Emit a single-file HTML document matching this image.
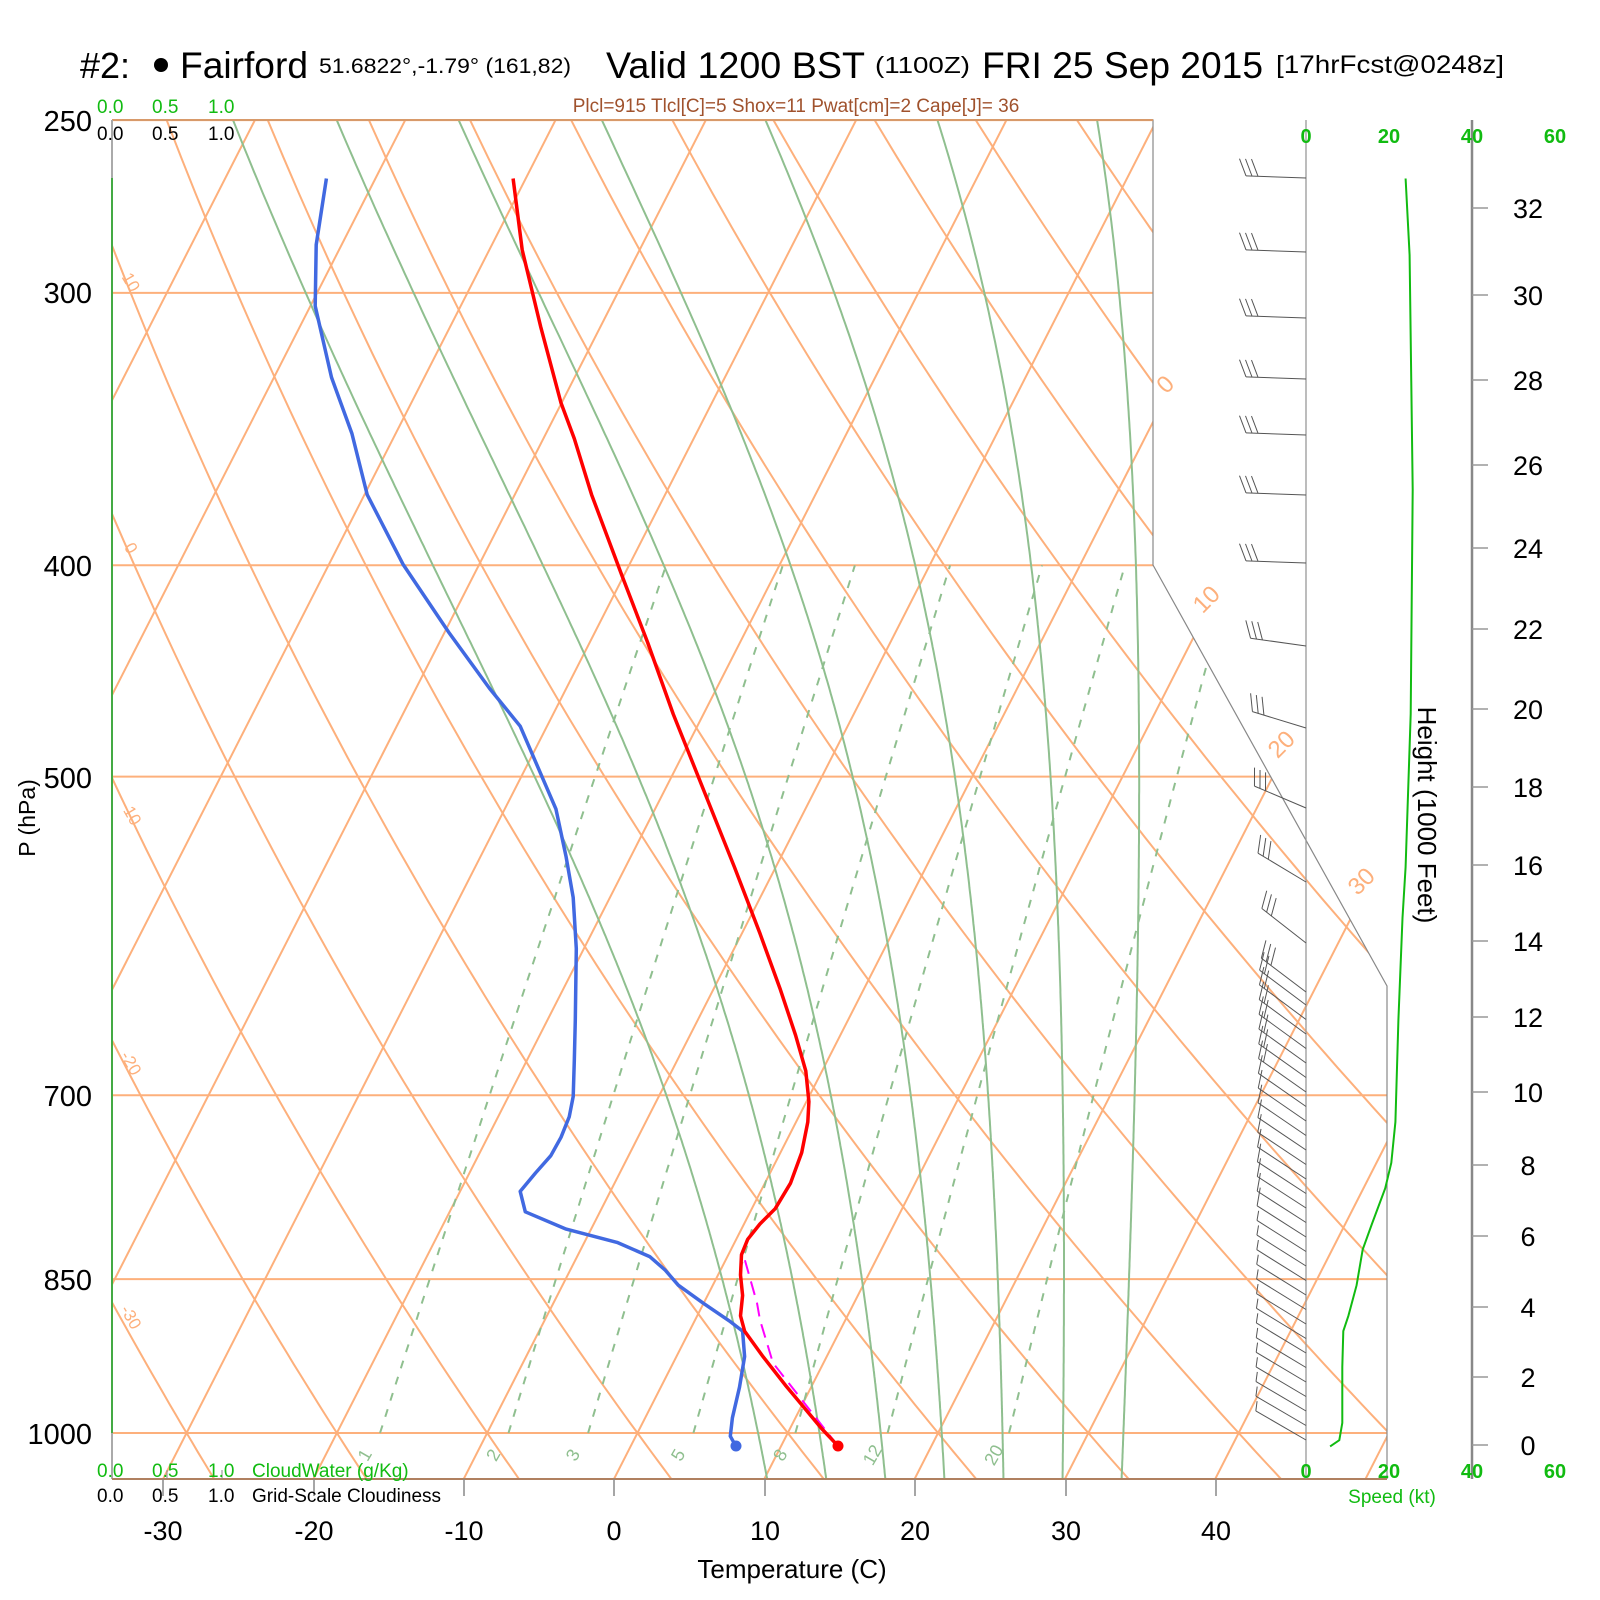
<!DOCTYPE html>
<html><head><meta charset="utf-8"><style>
html,body{margin:0;padding:0;background:#fff;}
svg{display:block;font-family:"Liberation Sans",Arial,sans-serif;}
</style></head><body>
<svg id="s" width="1600" height="1600" viewBox="0 0 1600 1600" xmlns="http://www.w3.org/2000/svg">
<defs><clipPath id="cp"><polygon points="112,120 1153,120 1153,565 1387,986 1387,1479 112,1479"/></clipPath></defs>
<g id="grid" clip-path="url(#cp)"></g>
<g id="fg"></g>
<!-- header -->
<text x="80" y="78" font-size="36">#2:</text>
<circle cx="161" cy="65" r="7" fill="#000"/>
<text x="180" y="78" font-size="37" textLength="128" lengthAdjust="spacingAndGlyphs">Fairford</text>
<text x="319" y="73" font-size="21" textLength="252" lengthAdjust="spacingAndGlyphs">51.6822°,-1.79° (161,82)</text>
<text x="606" y="78" font-size="37" textLength="259" lengthAdjust="spacingAndGlyphs">Valid 1200 BST</text>
<text x="875" y="73" font-size="23" textLength="95" lengthAdjust="spacingAndGlyphs">(1100Z)</text>
<text x="982" y="78" font-size="37" textLength="281" lengthAdjust="spacingAndGlyphs">FRI 25 Sep 2015</text>
<text x="1276" y="73" font-size="25" textLength="228" lengthAdjust="spacingAndGlyphs">[17hrFcst@0248z]</text>
<text x="796" y="112" font-size="19" fill="#a0522d" text-anchor="middle">Plcl=915 Tlcl[C]=5 Shox=11 Pwat[cm]=2 Cape[J]= 36</text>
<g font-size="19" fill="#11bb11"><text x="97" y="113">0.0</text><text x="152" y="113">0.5</text><text x="208" y="113">1.0</text></g>
<g font-size="19" fill="#000"><text x="97" y="140">0.0</text><text x="152" y="140">0.5</text><text x="208" y="140">1.0</text></g>
<g font-size="19" fill="#11bb11"><text x="97" y="1477">0.0</text><text x="152" y="1477">0.5</text><text x="208" y="1477">1.0</text><text x="252" y="1477">CloudWater (g/Kg)</text></g>
<g font-size="19" fill="#000"><text x="97" y="1502">0.0</text><text x="152" y="1502">0.5</text><text x="208" y="1502">1.0</text><text x="252" y="1502">Grid-Scale Cloudiness</text></g>
<g font-size="29" text-anchor="end">
<text x="92" y="131">250</text><text x="92" y="303">300</text><text x="92" y="576">400</text><text x="92" y="788">500</text><text x="92" y="1106">700</text><text x="92" y="1290">850</text><text x="92" y="1444">1000</text>
</g>
<g font-size="27" text-anchor="middle">
<text x="163" y="1540">-30</text><text x="314" y="1540">-20</text><text x="464" y="1540">-10</text><text x="614" y="1540">0</text><text x="765" y="1540">10</text><text x="915" y="1540">20</text><text x="1066" y="1540">30</text><text x="1216" y="1540">40</text>
</g>
<text x="792" y="1578" font-size="26" text-anchor="middle">Temperature (C)</text>
<text transform="translate(35,818) rotate(-90)" font-size="23" text-anchor="middle">P (hPa)</text>
<text transform="translate(1418,815) rotate(90)" font-size="26" text-anchor="middle">Height (1000 Feet)</text>
<g font-size="20" fill="#11bb11" font-weight="bold" text-anchor="middle">
<text x="1306" y="143">0</text><text x="1389" y="143">20</text><text x="1472" y="143">40</text><text x="1555" y="143">60</text>
<text x="1306" y="1478">0</text><text x="1389" y="1478">20</text><text x="1472" y="1478">40</text><text x="1555" y="1478">60</text>
</g>
<text x="1392" y="1503" font-size="19" fill="#11bb11" text-anchor="middle">Speed (kt)</text>
</svg>
<script>
(function(){
var NS="http://www.w3.org/2000/svg";
var grid=document.getElementById('grid'),fg=document.getElementById('fg');
function el(p,tag,a){var e=document.createElementNS(NS,tag);for(var k in a)e.setAttribute(k,a[k]);p.appendChild(e);return e;}
function Y(p){return 1433+947*Math.log(p/1000);}
function X(T,p){return 614+15.03*T+0.51*(1479-Y(p));}
function path(p,pts,a){var d='M'+pts.map(function(q){return q[0].toFixed(1)+','+q[1].toFixed(1)}).join('L');a.d=d;a.fill=a.fill||'none';return el(p,'path',a);}
var OR='#fdb07c',GR='#8fbf8f';
[250,300,400,500,700,850,1000].forEach(function(p){el(grid,'line',{x1:112,x2:1400,y1:Y(p),y2:Y(p),stroke:OR,'stroke-width':2});});
for(var T=-150;T<=60;T+=10){path(grid,[[X(T,1060),Y(1060)],[X(T,240),Y(240)]],{stroke:OR,'stroke-width':2});}
for(var th=-60;th<=220;th+=10){var pts=[];for(var p=1060;p>=240;p-=10){var t=(th+273.15)*Math.pow(p/1000,0.2857)-273.15;pts.push([X(t,p),Y(p)]);}path(grid,pts,{stroke:OR,'stroke-width':2});}
function es(t){return 6.112*Math.exp(17.67*t/(t+243.5));}
function rs(t,p){var e=es(t);return 0.622*e/(p-e);}
for(var k=0;k<=6;k++){var t=10.2+3.93*k,p=1050,pts=[[X(t,p),Y(p)]];
 while(p>240){var TK=t+273.15,r=rs(t,p),Lv=2.501e6,Rd=287,cp=1005;
  var dTdp=(1/p)*(Rd*TK+Lv*r)/(cp+Lv*Lv*r*0.622/(Rd*TK*TK));
  t-=dTdp*2;p-=2;pts.push([X(t,p),Y(p)]);}
 path(grid,pts,{stroke:GR,'stroke-width':2});}
[1,2,3,5,8,12,20].forEach(function(w){var pts=[];for(var p=1000;p>=400;p-=10){var e=w/1000*p/(0.622+w/1000);var l=Math.log(e/6.112);var t=243.5*l/(17.67-l);pts.push([X(t,p),Y(p)]);}
 path(grid,pts,{stroke:GR,'stroke-width':2,'stroke-dasharray':'8,9'});
 var e0=w/1000*1000/(0.622+w/1000),l0=Math.log(e0/6.112),t0=243.5*l0/(17.67-l0);
 var tx=X(t0,1000)-10,ty=1458;var tt=el(grid,'text',{x:0,y:0,'font-size':18,fill:GR,transform:'translate('+tx+','+ty+') rotate(-60)','text-anchor':'middle'});tt.textContent=w;});
el(fg,'polyline',{points:'112,120 1153,120 1153,565 1387,986 1387,1479',fill:'none',stroke:'#888','stroke-width':1.2});
el(fg,'line',{x1:112,y1:120,x2:1153,y2:120,stroke:'#d89a6a','stroke-width':2});
el(fg,'line',{x1:112,y1:120,x2:112,y2:1479,stroke:'#aaa','stroke-width':2});
el(fg,'line',{x1:112,y1:178,x2:112,y2:1433,stroke:'#22aa22','stroke-width':1.5});
el(fg,'line',{x1:112,y1:1479,x2:1387,y2:1479,stroke:'#b08060','stroke-width':2});
[163,314,464,614,765,915,1066,1216].forEach(function(x){el(fg,'line',{x1:x,y1:1479,x2:x,y2:1496,stroke:'#888','stroke-width':1.5});});
[167,222].forEach(function(x){el(fg,'line',{x1:x,y1:1479,x2:x,y2:1470,stroke:'#888','stroke-width':1});});
var ol=[['0',1171,390,-45,24],['10',1212,605,-45,24],['20',1287,750,-45,24],['30',1367,887,-45,24]];
ol.forEach(function(a){var t=el(fg,'text',{transform:'translate('+a[1]+','+a[2]+') rotate('+a[3]+')','font-size':a[4],fill:OR,'text-anchor':'middle'});t.textContent=a[0];});
[['10',285],['0',551],['-10',816],['-20',1066],['-30',1320]].forEach(function(a){var t=el(fg,'text',{transform:'translate(126,'+a[1]+') rotate(60)','font-size':17,fill:OR,'text-anchor':'middle'});t.textContent=a[0];});
var f=1.02;function sc(a){return a.map(function(q){return [q[0]*f,q[1]*f];});}
var red=sc([[503,175],[512,245],[530,320],[550,395],[563,430],[580,485],[610,565],[635,630],[660,700],[690,775],[720,850],[745,915],[765,970],[780,1015],[790,1050],[793,1080],[792,1100],[786,1130],[775,1160],[760,1185],[745,1200],[733,1215],[727,1230],[726,1250],[728,1270],[726,1290],[730,1305],[748,1330],[770,1358],[790,1382],[805,1400],[821,1417]]);
var blue=sc([[320,175],[310,240],[309,300],[325,370],[345,425],[360,485],[395,553],[440,620],[480,675],[510,712],[545,793],[555,840],[562,880],[565,930],[564,1000],[563,1040],[562,1075],[558,1095],[550,1115],[540,1133],[525,1150],[510,1168],[515,1188],[555,1205],[605,1218],[637,1232],[652,1245],[665,1260],[690,1278],[715,1295],[728,1305],[730,1330],[725,1360],[718,1390],[716,1408],[721,1417]]);
path(fg,[[838,1446],[773,1363],[760,1320],[757,1303],[744,1257]],{stroke:'#ff00ff','stroke-width':2,'stroke-dasharray':'14,8'});
path(fg,blue,{stroke:'#4169e1','stroke-width':3.5,'stroke-linejoin':'round'});
path(fg,red,{stroke:'#ff0000','stroke-width':3.5,'stroke-linejoin':'round'});
el(fg,'circle',{cx:736,cy:1446,r:5.5,fill:'#4169e1'});
el(fg,'circle',{cx:838,cy:1446,r:5.5,fill:'#ff0000'});
el(fg,'line',{x1:1306,y1:120,x2:1306,y2:1479,stroke:'#999','stroke-width':1.3});
el(fg,'line',{x1:1472,y1:120,x2:1472,y2:1479,stroke:'#888','stroke-width':2.5});
var hy=[1445,1377,1307,1236,1165,1092,1017,941,865,787,709,629,548,465,380,295,208];
hy.forEach(function(y,i){el(fg,'line',{x1:1472,y1:y,x2:1488,y2:y,stroke:'#999','stroke-width':1.5});var t=el(fg,'text',{x:1528,y:y+10,'font-size':27,'text-anchor':'middle'});t.textContent=i*2;});
var spd=sc([[1378,175],[1382,250],[1385,480],[1383,700],[1378,850],[1375,900],[1371,1000],[1368,1100],[1364,1140],[1358,1165],[1345,1200],[1336,1225],[1330,1260],[1322,1290],[1317,1305],[1316,1340],[1316,1395],[1313,1412],[1304,1418]]);
path(fg,spd,{stroke:'#11bb11','stroke-width':2});
var lv=[178,252,318,379,435,495,563,646,728,808,882,943,992];
for(var y=1005;y<=1448;y+=14.5)lv.push(y);
var aa=[[0,2],[563,2],[646,8],[728,17],[808,23],[882,31],[943,38],[1000,37],[1200,33],[1450,30]];
function ang(y){for(var i=1;i<aa.length;i++){if(y<=aa[i][0]){var a=aa[i-1],b=aa[i];return a[1]+(b[1]-a[1])*(y-a[0])/(b[0]-a[0]);}}return 30;}
var bg=el(fg,'g',{stroke:'#555','stroke-width':1,fill:'none'});
lv.forEach(function(y){var a=ang(y)*Math.PI/180,L=y<600?60:(y<1000?56:58);var ux=-Math.cos(a),uy=-Math.sin(a);var tx=1306+ux*L,ty=y+uy*L;
 el(bg,'line',{x1:1306,y1:y,x2:tx,y2:ty});
 var n=y<1000?3:(y<1100?2:1);var nx=-uy,ny=ux;
 for(var i=0;i<n;i++){var px=tx-ux*i*6,py=ty-uy*i*6;var len=(y>1250?9:17);el(bg,'line',{x1:px,y1:py,x2:px+ux*len*0.42+nx*len,y2:py+uy*len*0.42+ny*len});}
});
})();
</script>
</body></html>
